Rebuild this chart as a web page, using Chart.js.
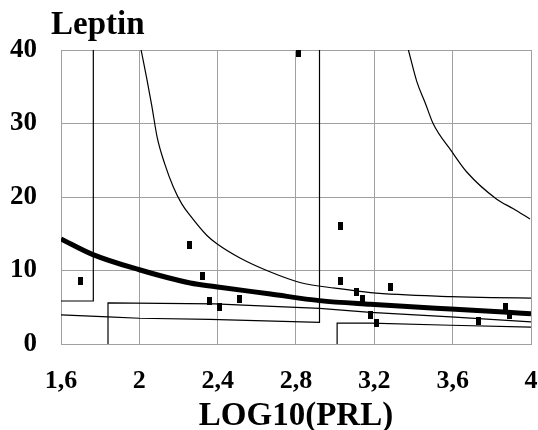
<!DOCTYPE html>
<html>
<head>
<meta charset="utf-8">
<script src="https://cdn.jsdelivr.net/npm/chart.js@4.4.1/dist/chart.umd.min.js"></script>
<style>
  html, body { margin: 0; padding: 0; background: #fff; }
  #wrap { width: 538px; height: 430px; }
</style>
</head>
<body>
<div id="wrap"><canvas id="chart" width="538" height="430"></canvas></div>
<script>
const chartTitle = "Leptin";
const xTitle = "LOG10(PRL)";
const xTicks = [1.6, 2, 2.4, 2.8, 3.2, 3.6, 4];
const xTickLabels = ["1,6", "2", "2,4", "2,8", "3,2", "3,6", "4"];

// measured points
const ptsX = [1.70, 2.255, 2.32, 2.36, 2.41, 2.51, 2.815, 3.025, 3.025, 3.11, 3.14, 3.18, 3.21, 3.285, 3.73, 3.87, 3.89];
const ptsY = [8.6, 13.5, 9.25, 5.85, 5.1, 6.1, 39.6, 16.0, 8.6, 7.1, 6.1, 3.95, 2.9, 7.8, 3.1, 5.0, 3.95];

// fitted curve (thick)
const fitX = [1.6, 1.76, 2.0, 2.26, 2.39, 2.67, 2.92, 3.18, 3.59, 3.86, 4.0];
const fitY = [14.3, 12.2, 10.1, 8.3, 7.8, 6.8, 5.9, 5.4, 4.75, 4.35, 4.1];

// upper band, left
const hiAX = [2.009, 2.038, 2.063, 2.092, 2.131, 2.173, 2.216, 2.259, 2.344, 2.398, 2.514, 2.66, 2.83, 3.0, 3.18, 3.59, 3.8, 4.0];
const hiAY = [40, 36.1, 32.5, 28.0, 24.4, 21.4, 19.1, 17.5, 14.8, 13.6, 11.7, 9.9, 8.3, 7.6, 7.0, 6.45, 6.3, 6.25];

// upper band, right
const hiBX = [3.374, 3.417, 3.46, 3.5, 3.595, 3.672, 3.825, 3.91, 3.995];
const hiBY = [40, 35.7, 32.8, 30.0, 26.2, 23.4, 19.7, 18.4, 17.0];

// lower band with step
const loAX = [1.84, 1.84, 2.387, 2.53, 2.92, 3.18, 3.59, 4.0];
const loAY = [0, 5.6, 5.45, 5.3, 4.85, 4.3, 3.7, 3.0];

const loBX = [1.6, 1.84, 2.0, 2.36, 2.92, 2.92];
const loBY = [3.95, 3.7, 3.5, 3.35, 2.95, 40];

const boxX = [1.6, 1.765, 1.765];
const boxY = [5.85, 5.85, 40];

const loCX = [3.01, 3.01, 3.18, 3.59, 4.0];
const loCY = [0, 2.85, 2.85, 2.55, 2.3];

const FONT = "'Liberation Serif', 'Times New Roman', serif";

function pts(xs, ys) {
  return xs.map((x, i) => ({ x: x, y: ys[i] }));
}

// small upright black bar used as marker
const mark = document.createElement("canvas");
mark.width = 5;
mark.height = 8;
const mctx = mark.getContext("2d");
mctx.fillStyle = "#000";
mctx.fillRect(0, 0, 5, 8);

function thinLine(xs, ys, smooth) {
  return {
    type: "line",
    data: pts(xs, ys),
    borderColor: "#000",
    borderWidth: 1.2,
    pointRadius: 0,
    fill: false,
    tension: smooth ? 0.4 : 0,
    cubicInterpolationMode: smooth ? "monotone" : "default",
  };
}

const titlePlugin = {
  id: "plotTitle",
  afterDraw(chart) {
    const ctx = chart.ctx;
    ctx.save();
    ctx.fillStyle = "#000";
    ctx.font = "bold 33px " + FONT;
    ctx.textBaseline = "alphabetic";
    ctx.fillText(chartTitle, 51, 34);
    ctx.restore();
  },
};

new Chart(document.getElementById("chart"), {
  data: {
    datasets: [
      {
        type: "scatter",
        data: pts(ptsX, ptsY),
        pointStyle: mark,
        pointRadius: 4,
        backgroundColor: "#000",
        borderColor: "#000",
      },
      {
        type: "line",
        data: pts(fitX, fitY),
        borderColor: "#000",
        borderWidth: 5,
        pointRadius: 0,
        fill: false,
        tension: 0.4,
        cubicInterpolationMode: "monotone",
      },
      thinLine(hiAX, hiAY, true),
      thinLine(hiBX, hiBY, true),
      thinLine(loAX, loAY, false),
      thinLine(loBX, loBY, false),
      thinLine(boxX, boxY, false),
      thinLine(loCX, loCY, false),
    ],
  },
  options: {
    responsive: false,
    animation: false,
    layout: { padding: { top: 50, right: 7, left: 0, bottom: 0 } },
    plugins: {
      legend: { display: false },
      tooltip: { enabled: false },
    },
    scales: {
      x: {
        type: "linear",
        min: 1.6,
        max: 4,
        afterBuildTicks: (scale) => {
          scale.ticks = xTicks.map((v) => ({ value: v }));
        },
        afterFit: (scale) => {
          scale.height = 86;
          // tick padding would otherwise push the right edge in
          scale.paddingLeft = 0;
          scale.paddingRight = 0;
        },
        grid: { color: "#a0a0a0", lineWidth: 1, drawTicks: false },
        border: { color: "#a0a0a0" },
        ticks: {
          padding: 22,
          color: "#000",
          maxRotation: 0,
          autoSkip: false,
          font: { family: FONT, size: 26, weight: "bold" },
          callback: (value, index) => xTickLabels[index],
        },
        title: {
          display: true,
          text: xTitle,
          color: "#000",
          padding: { top: 0, bottom: 0 },
          font: { family: FONT, size: 33, weight: "bold", lineHeight: 0.8 },
        },
      },
      y: {
        min: 0,
        max: 40,
        afterFit: (scale) => {
          scale.width = 61;
        },
        grid: { color: "#a0a0a0", lineWidth: 1, drawTicks: false },
        border: { color: "#a0a0a0" },
        ticks: {
          stepSize: 10,
          padding: 24,
          color: "#000",
          font: { family: FONT, size: 27, weight: "bold" },
        },
      },
    },
  },
  plugins: [titlePlugin],
});
</script>
</body>
</html>
